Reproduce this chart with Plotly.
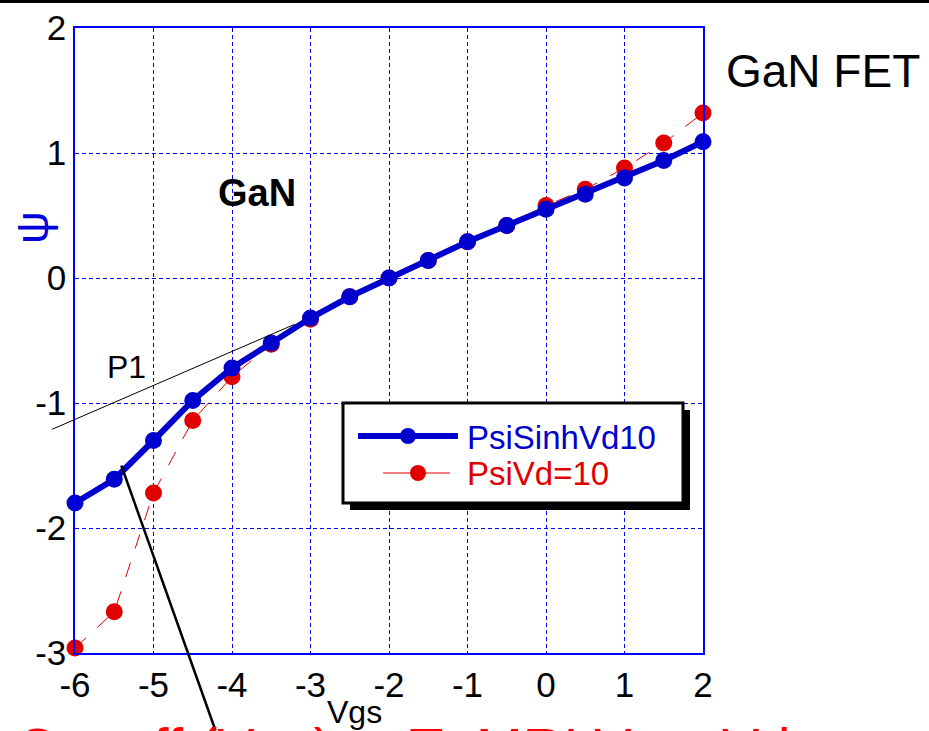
import plotly.graph_objects as go

vgs = [-6, -5.5, -5, -4.5, -4, -3.5, -3, -2.5, -2, -1.5, -1, -0.5, 0, 0.5, 1, 1.5, 2]
psi_sinh_vd10 = [-1.80, -1.61, -1.30, -0.98, -0.72, -0.52, -0.32, -0.15, 0.0, 0.14, 0.29, 0.42, 0.55, 0.67, 0.80, 0.94, 1.09]
psi_vd10 = [-2.96, -2.67, -1.72, -1.14, -0.79, -0.53, -0.33, -0.15, 0.0, 0.14, 0.29, 0.42, 0.58, 0.71, 0.88, 1.08, 1.32]
x_ticks = [-6, -5, -4, -3, -2, -1, 0, 1, 2]
x_tick_labels = ["-6", "-5", "-4", "-3", "-2", "-1", "0", "1", "2"]
y_ticks = [-3, -2, -1, 0, 1, 2]
y_tick_labels = ["-3", "-2", "-1", "0", "1", "2"]

XR = [-6, 2]
YR = [-3, 2]

W, H = 929, 731
ML, MR, MT, MB = 75, 226, 28, 78
pw, ph = W - ML - MR, H - MT - MB

def to_paper(x, y):
    return ((x - XR[0]) / (XR[1] - XR[0]), (y - YR[0]) / (YR[1] - YR[0]))

def px(xp, yp):
    return ((xp - ML) / pw, (H - MB - yp) / ph)

FONT = "Liberation Sans, Arial, sans-serif"
BLUE = "#0000cc"
RED = "#e00000"

fig = go.Figure()
fig.add_trace(go.Scatter(
    x=vgs, y=psi_vd10, mode="lines+markers", name="PsiVd=10",
    line=dict(color=RED, width=1, dash="longdash"),
    marker=dict(color=RED, size=17), cliponaxis=False))
fig.add_trace(go.Scatter(
    x=vgs, y=psi_sinh_vd10, mode="lines+markers", name="PsiSinhVd10",
    line=dict(color=BLUE, width=6),
    marker=dict(color=BLUE, size=17), cliponaxis=False))

axis_common = dict(
    showgrid=True, gridcolor="#0000ff", gridwidth=1, griddash="4px,3px",
    showline=True, linecolor="#0000ff", linewidth=1.5, mirror=True, automargin=False,
    zeroline=False, ticks="", tickfont=dict(family=FONT, size=35, color="black"),
)
fig.update_xaxes(range=XR, tickvals=x_ticks, ticktext=x_tick_labels, **axis_common)
fig.update_yaxes(range=YR, tickvals=y_ticks, ticktext=y_tick_labels, **axis_common)

shapes = []
# top black rule
t0 = px(0, 1.5); t1 = px(W, 1.5)
shapes.append(dict(type="line", xref="paper", yref="paper", x0=t0[0], x1=t1[0], y0=t0[1], y1=t1[1],
                   line=dict(color="black", width=3)))
# tangent P1
p0 = to_paper(-6.29, -1.21)
p1 = to_paper(-3.2, -0.37)
shapes.append(dict(type="line", xref="paper", yref="paper", x0=p0[0], y0=p0[1], x1=p1[0], y1=p1[1],
                   line=dict(color="black", width=1)))
# pointer line
q0 = to_paper(-5.41, -1.50)
q1 = to_paper(-4.21, -3.62)
shapes.append(dict(type="line", xref="paper", yref="paper", x0=q0[0], y0=q0[1], x1=q1[0], y1=q1[1],
                   line=dict(color="black", width=2.5)))

# manual legend box (shadow + box)
b0 = px(343, 503); b1 = px(683, 403)
s0 = px(350, 510); s1 = px(690, 410)
shapes.append(dict(type="rect", xref="paper", yref="paper", x0=s0[0], y0=s0[1], x1=s1[0], y1=s1[1],
                   fillcolor="black", line=dict(width=0), layer="above"))
shapes.append(dict(type="rect", xref="paper", yref="paper", x0=b0[0], y0=b0[1], x1=b1[0], y1=b1[1],
                   fillcolor="white", line=dict(color="black", width=3), layer="above"))
l0 = px(358, 436); l1 = px(458, 436)
shapes.append(dict(type="line", xref="paper", yref="paper", x0=l0[0], y0=l0[1], x1=l1[0], y1=l1[1],
                   line=dict(color=BLUE, width=6), layer="above"))
c0 = px(400, 428); c1 = px(416, 444)
shapes.append(dict(type="circle", xref="paper", yref="paper", x0=c0[0], y0=c1[1], x1=c1[0], y1=c0[1],
                   fillcolor=BLUE, line=dict(width=0), layer="above"))
r0 = px(383, 473); r1 = px(450, 473)
shapes.append(dict(type="line", xref="paper", yref="paper", x0=r0[0], y0=r0[1], x1=r1[0], y1=r1[1],
                   line=dict(color=RED, width=1), layer="above"))
d0 = px(410, 465); d1 = px(426, 481)
shapes.append(dict(type="circle", xref="paper", yref="paper", x0=d0[0], y0=d1[1], x1=d1[0], y1=d0[1],
                   fillcolor=RED, line=dict(width=0), layer="above"))

ann = []
def add_text(text, xp, yp, size, color="black", bold=False, xanchor="left", yanchor="middle", angle=0):
    x, y = px(xp, yp)
    ann.append(dict(text=("<b>%s</b>" % text) if bold else text, x=x, y=y, xref="paper", yref="paper",
                    showarrow=False, xanchor=xanchor, yanchor=yanchor, textangle=angle,
                    font=dict(family=FONT, size=size, color=color)))

add_text("PsiSinhVd10", 465, 437, 33, BLUE)
add_text("PsiVd=10", 465, 473, 33, RED)
add_text("P1", 105, 367, 32)
add_text("GaN", 216, 193, 38, bold=True)
add_text("GaN FET", 724, 71, 46)
add_text("Vgs", 354, 712, 32, xanchor="center")
add_text("ψ", 32, 228, 46, "#0000dd", xanchor="center", angle=-90)
add_text("Cut-off (Vgs) at T=MRI Vgs, Vd", 14, 714, 56, "#ff0000", yanchor="top")

fig.update_layout(
    width=W, height=H, margin=dict(l=ML, r=MR, t=MT, b=MB),
    paper_bgcolor="white", plot_bgcolor="white", showlegend=False,
    shapes=shapes, annotations=ann,
)
fig.write_html("out.html", config={"displayModeBar": False},
               post_script="document.body.style.margin='0';document.body.style.overflow='hidden';")
